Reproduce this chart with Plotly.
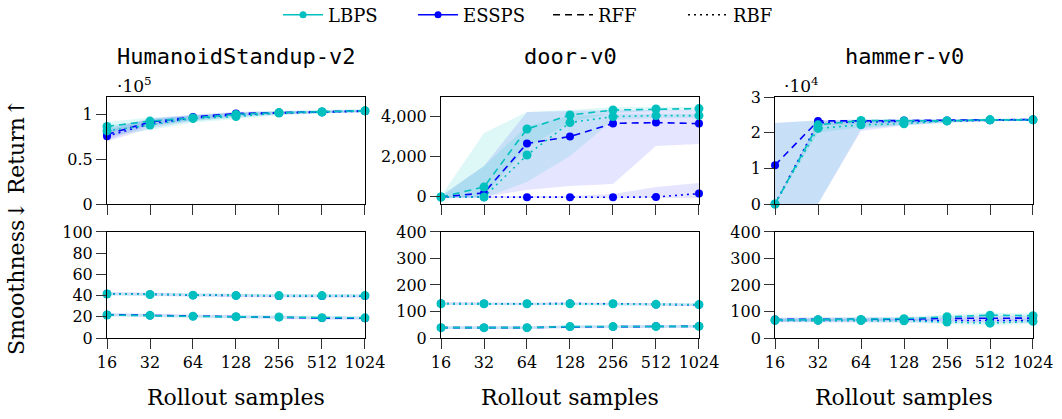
import plotly.graph_objects as go

# Rollout sample counts (x positions use log2 of the count)
SAMPLES = [16, 32, 64, 128, 256, 512, 1024]
X_POS = [4, 5, 6, 7, 8, 9, 10]
X_LABELS = [str(s) for s in SAMPLES]

# ---- HumanoidStandup-v2: return ----
HUM_RET_LBPS_RFF = [87000, 93000, 96500, 100500, 102500, 103500, 104500]
HUM_RET_LBPS_RFF_LO = [80000, 88000, 93000, 97000, 100500, 102000, 103000]
HUM_RET_LBPS_RFF_HI = [92000, 97000, 99500, 103000, 104500, 105500, 106500]
HUM_RET_LBPS_RBF = [82000, 88500, 96000, 98000, 102000, 103000, 104500]
HUM_RET_LBPS_RBF_LO = [76000, 83000, 91000, 95500, 99500, 101500, 103000]
HUM_RET_LBPS_RBF_HI = [88000, 94000, 99500, 101000, 104000, 105000, 106000]
HUM_RET_ESSPS_RFF = [78000, 92000, 97500, 101500, 102500, 103500, 104500]
HUM_RET_ESSPS_RFF_LO = [72000, 88000, 94500, 99500, 101000, 102500, 103500]
HUM_RET_ESSPS_RFF_HI = [85000, 96000, 100000, 103500, 104000, 105000, 105500]
HUM_RET_ESSPS_RBF = [76000, 90000, 96500, 100000, 102000, 103000, 104000]
HUM_RET_ESSPS_RBF_LO = [70000, 85000, 93000, 97500, 100500, 102000, 103000]
HUM_RET_ESSPS_RBF_HI = [83000, 95000, 99500, 102500, 103500, 104500, 105500]

# ---- door-v0: return ----
DOOR_RET_LBPS_RFF = [-50, 450, 3350, 4050, 4300, 4350, 4370]
DOOR_RET_LBPS_RFF_LO = [-100, 0, 2400, 3700, 4150, 4250, 4300]
DOOR_RET_LBPS_RFF_HI = [0, 3150, 4200, 4300, 4450, 4450, 4450]
DOOR_RET_LBPS_RBF = [-50, -50, 2050, 3670, 3970, 4020, 4020]
DOOR_RET_LBPS_RBF_LO = [-100, -100, 700, 2000, 3800, 3900, 3900]
DOOR_RET_LBPS_RBF_HI = [0, 1500, 3500, 4000, 4100, 4100, 4100]
DOOR_RET_ESSPS_RFF = [-50, 150, 2630, 2970, 3630, 3670, 3620]
DOOR_RET_ESSPS_RFF_LO = [-100, -50, 300, 500, 600, 2500, 2600]
DOOR_RET_ESSPS_RFF_HI = [0, 1500, 4200, 4250, 4300, 4300, 4300]
DOOR_RET_ESSPS_RBF = [-50, -60, -60, -60, -60, -50, 120]
DOOR_RET_ESSPS_RBF_LO = [-100, -100, -100, -100, -100, -100, -100]
DOOR_RET_ESSPS_RBF_HI = [0, 0, 0, 0, 100, 450, 650]

# ---- hammer-v0: return ----
HAM_RET_LBPS_RFF = [0, 22200, 23400, 23300, 23300, 23600, 23600]
HAM_RET_LBPS_RFF_LO = [0, 0, 21000, 22300, 22900, 23300, 23400]
HAM_RET_LBPS_RFF_HI = [22700, 23400, 23700, 23700, 23700, 23900, 23900]
HAM_RET_LBPS_RBF = [0, 21200, 22200, 22500, 23300, 23600, 23600]
HAM_RET_LBPS_RBF_LO = [0, 20000, 21500, 22000, 22800, 23200, 23300]
HAM_RET_LBPS_RBF_HI = [0, 22500, 23000, 23200, 23600, 23900, 23900]
HAM_RET_ESSPS_RFF = [10900, 23300, 23300, 23400, 23400, 23600, 23700]
HAM_RET_ESSPS_RFF_LO = [0, 0, 20500, 22000, 22800, 23200, 23300]
HAM_RET_ESSPS_RFF_HI = [22700, 23500, 23700, 23700, 23700, 23800, 23900]
HAM_RET_ESSPS_RBF = [0, 22800, 23000, 23200, 23300, 23500, 23600]
HAM_RET_ESSPS_RBF_LO = [0, 22000, 22500, 22800, 23000, 23200, 23300]
HAM_RET_ESSPS_RBF_HI = [0, 23300, 23400, 23500, 23600, 23700, 23800]

# ---- smoothness (mean and half-width of the band) ----
HUM_SM_LBPS_RFF = [21.7, 21.4, 20.4, 20.0, 19.8, 19.2, 19.0]
HUM_SM_LBPS_RBF = [41.5, 41.0, 40.4, 40.0, 40.0, 40.0, 40.0]
HUM_SM_ESSPS_RFF = [22.0, 21.3, 20.5, 20.1, 19.6, 18.8, 18.7]
HUM_SM_ESSPS_RBF = [41.8, 41.0, 40.3, 40.0, 39.7, 39.6, 39.5]
HUM_SM_SPREAD = [1.5, 1.5, 1.5, 1.5, 1.5, 1.5, 1.5]

DOOR_SM_LBPS_RFF = [39, 39, 39, 43, 43, 43, 44]
DOOR_SM_LBPS_RBF = [129, 129, 129, 129, 129, 127, 126]
DOOR_SM_ESSPS_RFF = [39, 39, 39, 42, 42, 44, 44]
DOOR_SM_ESSPS_RBF = [130, 129, 129, 130, 129, 126, 125]
DOOR_SM_SPREAD = [5, 5, 5, 5, 5, 5, 5]

HAM_SM_LBPS_RFF = [68, 69, 70, 73, 80, 86, 84]
HAM_SM_LBPS_RBF = [67, 67, 66, 65, 60, 56, 63]
HAM_SM_ESSPS_RFF = [70, 70, 70, 71, 74, 74, 75]
HAM_SM_ESSPS_RBF = [66, 66, 66, 66, 67, 66, 66]
HAM_SM_SPREAD = [7, 7, 7, 7, 8, 9, 9]

ENV_TITLES = ["HumanoidStandup-v2", "door-v0", "hammer-v0"]

CYAN = "rgb(0,191,191)"
BLUE = "rgb(0,0,255)"
CYAN_FILL = "rgba(0,191,191,0.13)"
BLUE_FILL = "rgba(0,0,255,0.10)"
DASH = "7px,5px"
DOT = "2px,4px"

SERIF = "DejaVu Serif"
MONO = "DejaVu Sans Mono"

# plot area in pixels: left 107, right 1033, top 97, bottom 338
X_DOMAINS = [[0.0, 0.2786], [0.3607, 0.6393], [0.7214, 1.0]]
Y_TOP = [0.556, 1.0]
Y_BOT = [0.0, 0.440]

fig = go.Figure()


def band(ax, lo, hi, fill):
    xa, ya = ax
    fig.add_trace(go.Scatter(x=X_POS, y=lo, mode="lines", line=dict(width=0),
                             hoverinfo="skip", showlegend=False, xaxis=xa, yaxis=ya))
    fig.add_trace(go.Scatter(x=X_POS, y=hi, mode="lines", line=dict(width=0),
                             fill="tonexty", fillcolor=fill, hoverinfo="skip",
                             showlegend=False, xaxis=xa, yaxis=ya))


def line(ax, y, color, dash, size):
    xa, ya = ax
    fig.add_trace(go.Scatter(x=X_POS, y=y, mode="lines+markers",
                             line=dict(color=color, width=1.6, dash=dash),
                             marker=dict(color=color, size=size, symbol="circle"),
                             cliponaxis=False, showlegend=False, xaxis=xa, yaxis=ya))


def spread(mean, half):
    return [m - h for m, h in zip(mean, half)], [m + h for m, h in zip(mean, half)]


returns = [
    (("x", "y"),
     (HUM_RET_LBPS_RFF, HUM_RET_LBPS_RFF_LO, HUM_RET_LBPS_RFF_HI),
     (HUM_RET_LBPS_RBF, HUM_RET_LBPS_RBF_LO, HUM_RET_LBPS_RBF_HI),
     (HUM_RET_ESSPS_RFF, HUM_RET_ESSPS_RFF_LO, HUM_RET_ESSPS_RFF_HI),
     (HUM_RET_ESSPS_RBF, HUM_RET_ESSPS_RBF_LO, HUM_RET_ESSPS_RBF_HI)),
    (("x2", "y2"),
     (DOOR_RET_LBPS_RFF, DOOR_RET_LBPS_RFF_LO, DOOR_RET_LBPS_RFF_HI),
     (DOOR_RET_LBPS_RBF, DOOR_RET_LBPS_RBF_LO, DOOR_RET_LBPS_RBF_HI),
     (DOOR_RET_ESSPS_RFF, DOOR_RET_ESSPS_RFF_LO, DOOR_RET_ESSPS_RFF_HI),
     (DOOR_RET_ESSPS_RBF, DOOR_RET_ESSPS_RBF_LO, DOOR_RET_ESSPS_RBF_HI)),
    (("x3", "y3"),
     (HAM_RET_LBPS_RFF, HAM_RET_LBPS_RFF_LO, HAM_RET_LBPS_RFF_HI),
     (HAM_RET_LBPS_RBF, HAM_RET_LBPS_RBF_LO, HAM_RET_LBPS_RBF_HI),
     (HAM_RET_ESSPS_RFF, HAM_RET_ESSPS_RFF_LO, HAM_RET_ESSPS_RFF_HI),
     (HAM_RET_ESSPS_RBF, HAM_RET_ESSPS_RBF_LO, HAM_RET_ESSPS_RBF_HI)),
]

smooth = [
    (("x4", "y4"), HUM_SM_LBPS_RFF, HUM_SM_LBPS_RBF, HUM_SM_ESSPS_RFF, HUM_SM_ESSPS_RBF, HUM_SM_SPREAD),
    (("x5", "y5"), DOOR_SM_LBPS_RFF, DOOR_SM_LBPS_RBF, DOOR_SM_ESSPS_RFF, DOOR_SM_ESSPS_RBF, DOOR_SM_SPREAD),
    (("x6", "y6"), HAM_SM_LBPS_RFF, HAM_SM_LBPS_RBF, HAM_SM_ESSPS_RFF, HAM_SM_ESSPS_RBF, HAM_SM_SPREAD),
]

for ax, l_rff, l_rbf, e_rff, e_rbf in returns:
    band(ax, e_rff[1], e_rff[2], BLUE_FILL)
    band(ax, e_rbf[1], e_rbf[2], BLUE_FILL)
    band(ax, l_rff[1], l_rff[2], CYAN_FILL)
    band(ax, l_rbf[1], l_rbf[2], CYAN_FILL)
    line(ax, e_rff[0], BLUE, DASH, 8)
    line(ax, e_rbf[0], BLUE, DOT, 8)
    line(ax, l_rff[0], CYAN, DASH, 9)
    line(ax, l_rbf[0], CYAN, DOT, 9)

for ax, l_rff, l_rbf, e_rff, e_rbf, half in smooth:
    for series, fill in ((e_rff, BLUE_FILL), (e_rbf, BLUE_FILL), (l_rff, CYAN_FILL), (l_rbf, CYAN_FILL)):
        lo, hi = spread(series, half)
        band(ax, lo, hi, fill)
    line(ax, e_rff, BLUE, DASH, 8)
    line(ax, e_rbf, BLUE, DOT, 8)
    line(ax, l_rff, CYAN, DASH, 9)
    line(ax, l_rbf, CYAN, DOT, 9)

# legend entries
legend_items = [
    ("LBPS", CYAN, "solid", "lines+markers"),
    ("ESSPS", BLUE, "solid", "lines+markers"),
    ("RFF", "black", DASH, "lines"),
    ("RBF", "black", DOT, "lines"),
]
for name, color, dash, mode in legend_items:
    fig.add_trace(go.Scatter(x=[None], y=[None], mode=mode, name=name,
                             line=dict(color=color, width=1.6, dash=dash),
                             marker=dict(color=color, size=7), xaxis="x", yaxis="y"))

tick_font = dict(family=SERIF, size=16, color="black")
axis_common = dict(showline=True, linecolor="black", linewidth=1, mirror=True,
                   ticks="outside", ticklen=10, tickcolor="#333", tickwidth=1,
                   showgrid=False, zeroline=False, tickfont=tick_font)

layout = dict(
    width=1062, height=419,
    margin=dict(l=107, r=29, t=97, b=81, autoexpand=False),
    plot_bgcolor="white", paper_bgcolor="white",
    font=dict(family=SERIF, color="black"),
    showlegend=True,
    legend=dict(orientation="h", traceorder="normal",
                xref="container", yref="container",
                x=0.2618, xanchor="left", y=0.964, yanchor="middle",
                entrywidth=80, entrywidthmode="pixels",
                font=dict(family=SERIF, size=18, color="black"), itemwidth=40,
                bgcolor="rgba(0,0,0,0)"),
)

top_ranges = [[0, 120000], [-400, 4950], [0, 30000]]
top_ticks = [
    dict(tickvals=[0, 50000, 100000], ticktext=["0", "0.5", "1"]),
    dict(tickvals=[0, 2000, 4000], ticktext=["0", "2,000", "4,000"]),
    dict(tickvals=[0, 10000, 20000, 30000], ticktext=["0", "1", "2", "3"]),
]
bot_ranges = [[0, 100], [0, 400], [0, 400]]
bot_ticks = [[0, 20, 40, 60, 80, 100], [0, 100, 200, 300, 400], [0, 100, 200, 300, 400]]

for i in range(3):
    top_x = "xaxis" if i == 0 else f"xaxis{i + 1}"
    top_y = "yaxis" if i == 0 else f"yaxis{i + 1}"
    bot_x = f"xaxis{i + 4}"
    bot_y = f"yaxis{i + 4}"
    layout[top_x] = dict(axis_common, domain=X_DOMAINS[i], range=[4, 10],
                         tickvals=X_POS, showticklabels=False,
                         anchor="y" if i == 0 else f"y{i + 1}")
    layout[top_y] = dict(axis_common, domain=Y_TOP, range=top_ranges[i],
                         anchor="x" if i == 0 else f"x{i + 1}", **top_ticks[i])
    layout[bot_x] = dict(axis_common, domain=X_DOMAINS[i], range=[4, 10],
                         tickvals=X_POS, ticktext=X_LABELS, anchor=f"y{i + 4}")
    layout[bot_y] = dict(axis_common, domain=Y_BOT, range=bot_ranges[i],
                         tickvals=bot_ticks[i], anchor=f"x{i + 4}")

fig.update_layout(**layout)

annotations = []
for i, title in enumerate(ENV_TITLES):
    cx = (X_DOMAINS[i][0] + X_DOMAINS[i][1]) / 2
    annotations.append(dict(text=title, x=cx, y=1.166, xref="paper", yref="paper",
                            xanchor="center", yanchor="middle", showarrow=False,
                            font=dict(family=MONO, size=22, color="black")))
    annotations.append(dict(text="Rollout samples", x=cx, y=-0.245, xref="paper", yref="paper",
                            xanchor="center", yanchor="middle", showarrow=False,
                            font=dict(family=SERIF, size=22, color="black")))

annotations.append(dict(text="·10<sup>5</sup>", x=0.0086, y=1.05, xref="paper", yref="paper",
                        xanchor="left", yanchor="middle", showarrow=False,
                        font=dict(family=SERIF, size=17, color="black")))
annotations.append(dict(text="·10<sup>4</sup>", x=0.7289, y=1.05, xref="paper", yref="paper",
                        xanchor="left", yanchor="middle", showarrow=False,
                        font=dict(family=SERIF, size=17, color="black")))
annotations.append(dict(text="Smoothness↓ Return↑", x=-0.0972, y=0.4606, xref="paper", yref="paper",
                        xanchor="center", yanchor="middle", textangle=-90, showarrow=False,
                        font=dict(family=SERIF, size=22, color="black")))

fig.update_layout(annotations=annotations)

fig.write_html("out.html")
